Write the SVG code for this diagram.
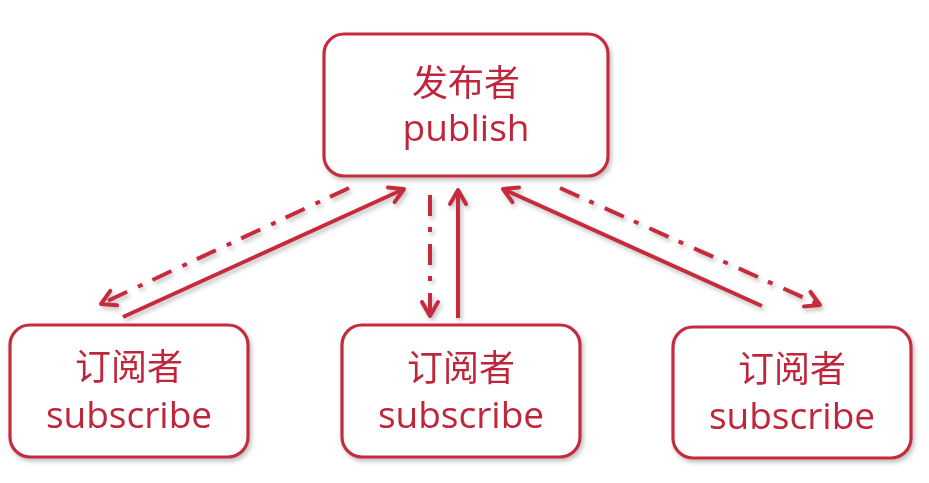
<svg xmlns="http://www.w3.org/2000/svg" width="929" height="483" viewBox="0 0 929 483">
<style>
.box{fill:#fff;stroke:#c62a3d;stroke-width:3.2}
.cn{font-family:"Noto Sans CJK SC",sans-serif;font-size:36px;font-weight:400;fill:#c0283b;text-anchor:middle}
.en{font-family:"Open Sans","Noto Sans",sans-serif;font-size:37px;font-weight:400;fill:#c0283b;text-anchor:middle}
.ln{fill:none;stroke:#c62a3d;stroke-width:4}
.dd{stroke-dasharray:21 11 5 12}
.ah{fill:none;stroke:#c62a3d;stroke-width:4;stroke-linecap:round;stroke-linejoin:round}
</style>
<defs>
<filter id="sh" x="-20%" y="-20%" width="140%" height="140%">
<feDropShadow dx="2" dy="3" stdDeviation="2" flood-color="#777" flood-opacity="0.45"/>
</filter>
<marker id="arr" viewBox="0 0 22 22" refX="19" refY="11" markerWidth="22" markerHeight="22" markerUnits="userSpaceOnUse" orient="auto">
<path class="ah" d="M5,3 L19,11 L5,19"/>
</marker>
</defs>
<rect width="929" height="483" fill="#fff"/>
<g id="publisher" filter="url(#sh)">
<rect class="box" x="324" y="34" width="284" height="142" rx="20"/>
<text class="cn" x="466" y="96">发布者</text>
<text class="en" x="466" y="141">publish</text>
</g>
<g id="subscriber1" filter="url(#sh)">
<rect class="box" x="10" y="325" width="238" height="132" rx="20"/>
<text class="cn" x="129" y="380">订阅者</text>
<text class="en" x="129" y="428">subscribe</text>
</g>
<g id="subscriber2" filter="url(#sh)">
<rect class="box" x="342" y="325" width="238" height="132" rx="20"/>
<text class="cn" x="461" y="381">订阅者</text>
<text class="en" x="461" y="428">subscribe</text>
</g>
<g id="subscriber3" filter="url(#sh)">
<rect class="box" x="673" y="327" width="238" height="131" rx="20"/>
<text class="cn" x="792" y="382">订阅者</text>
<text class="en" x="792" y="429">subscribe</text>
</g>
<g id="connectors" filter="url(#sh)">
<line class="ln" x1="123" y1="317" x2="404" y2="189" marker-end="url(#arr)"/>
<line class="ln dd" x1="349" y1="188" x2="101" y2="304" marker-end="url(#arr)"/>
<line class="ln dd" x1="430" y1="195" x2="430" y2="316" marker-end="url(#arr)"/>
<line class="ln" x1="458" y1="318" x2="458" y2="190" marker-end="url(#arr)"/>
<line class="ln" x1="762" y1="306" x2="503" y2="189" marker-end="url(#arr)"/>
<line class="ln dd" x1="560" y1="188" x2="820" y2="305" marker-end="url(#arr)"/>
</g>
</svg>
